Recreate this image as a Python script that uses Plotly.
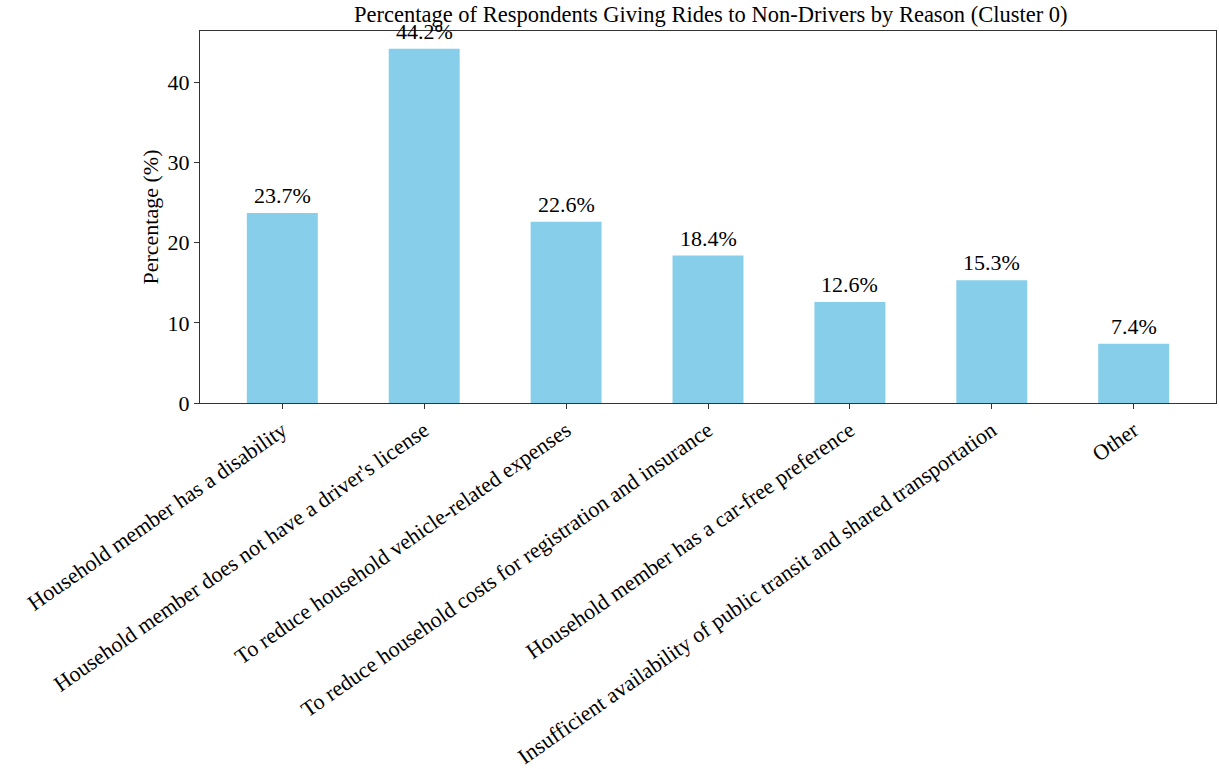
import plotly.graph_objects as go

categories = [
    "Household member has a disability",
    "Household member does not have a driver's license",
    "To reduce household vehicle-related expenses",
    "To reduce household costs for registration and insurance",
    "Household member has a car-free preference",
    "Insufficient availability of public transit and shared transportation",
    "Other",
]
values = [23.7, 44.2, 22.6, 18.4, 12.6, 15.3, 7.4]
labels = [f"{v:.1f}%" for v in values]

FONT = "Liberation Serif, Times New Roman, serif"
AX = "#333333"

fig = go.Figure()
fig.add_trace(go.Bar(
    x=categories, y=values, width=0.5,
    marker=dict(color="#87CEEB", line=dict(width=0)),
    showlegend=False, hoverinfo="x+y",
))
for c, v, t in zip(categories, values, labels):
    fig.add_annotation(x=c, y=v, text=t, showarrow=False, yanchor="bottom",
                       yshift=3, font=dict(family=FONT, size=22, color="black"))

fig.update_layout(
    width=1219, height=769,
    margin=dict(l=200, r=3, t=31, b=366),
    paper_bgcolor="white", plot_bgcolor="white",
    font=dict(family=FONT, size=22, color="black"),
    title=dict(text="Percentage of Respondents Giving Rides to Non-Drivers by Reason (Cluster 0)",
               x=0.5831, xanchor="center", y=0.992, yanchor="top",
               font=dict(family=FONT, size=22.5, color="black")),
    bargap=0.5,
)
fig.update_xaxes(
    range=[-0.58, 6.58], tickangle=-35, showline=True, linecolor=AX, linewidth=1,
    mirror=True, ticks="outside", ticklen=5, tickcolor=AX, showgrid=False,
    automargin=False,
    tickfont=dict(family=FONT, size=22, color="black"),
)
fig.update_yaxes(
    range=[0, 46.41], tickvals=[0, 10, 20, 30, 40], showline=True, linecolor=AX,
    linewidth=1, mirror=True, ticks="outside", ticklen=5, tickcolor=AX,
    showgrid=False, zeroline=False, automargin=False,
    title=dict(text="Percentage (%)", font=dict(family=FONT, size=22, color="black"), standoff=2),
    tickfont=dict(family=FONT, size=22, color="black"),
)

fig.write_html(
    "out.html",
    config={"displayModeBar": False},
    post_script="document.body.style.margin='0px';document.documentElement.style.overflow='hidden';",
)
